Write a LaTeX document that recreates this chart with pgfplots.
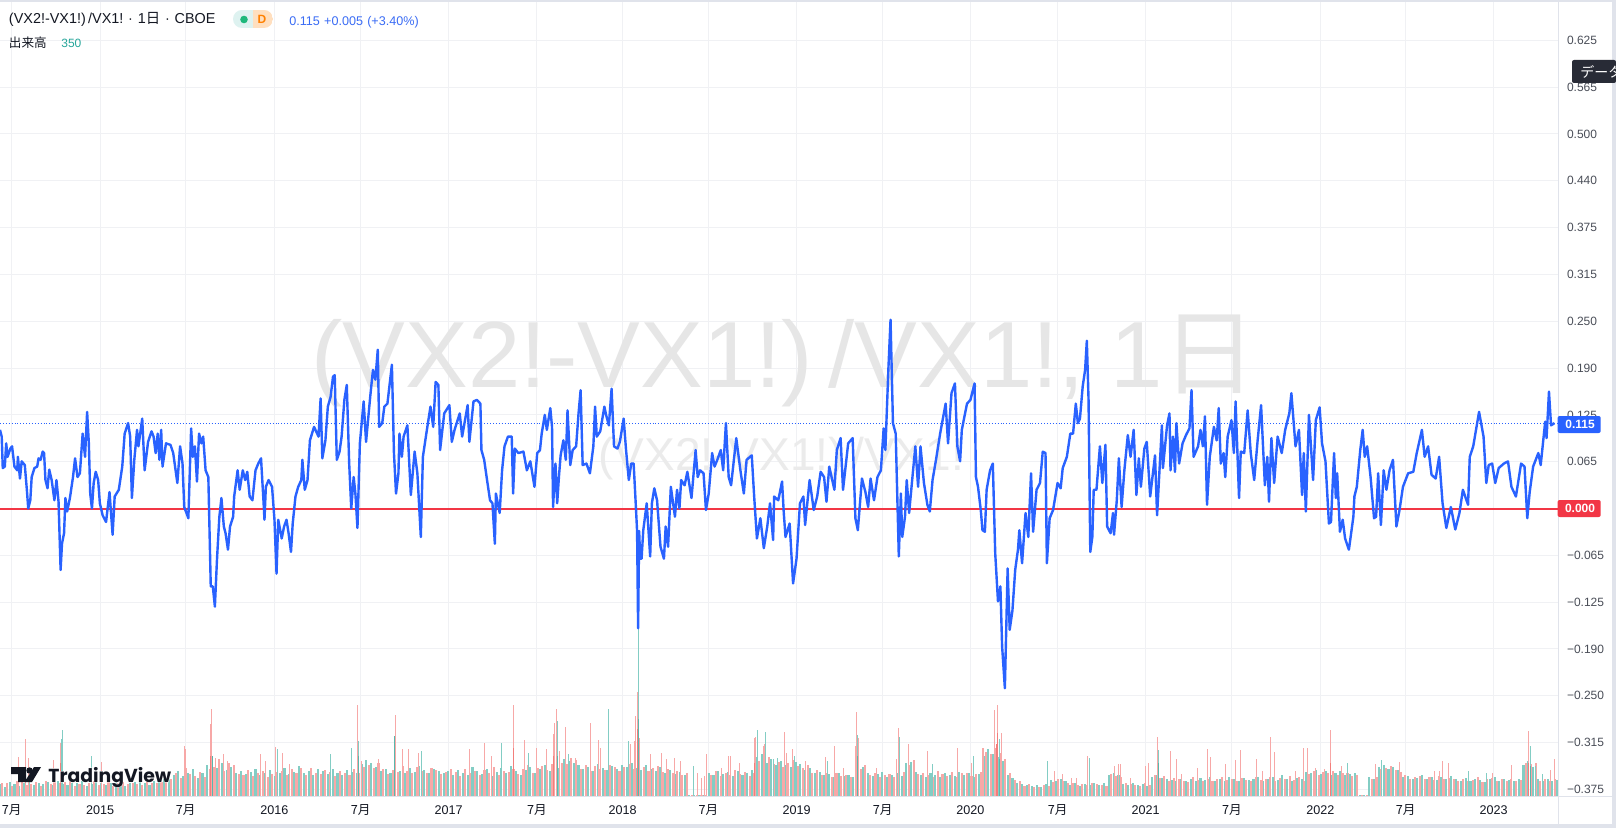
\documentclass[border=0pt]{standalone}
\usepackage{pgfplots}
\usepackage{pgfplotstable}
\usepackage{fontspec}
\pgfplotsset{compat=1.18}
\setmainfont{Liberation Sans}
\newfontfamily\cjk{Noto Sans CJK JP}
\newfontfamily\tvfont{Poppins}[UprightFont=* Bold]
\newfontfamily\tvhalo{Poppins}[UprightFont=* Bold,FakeBold=4]

\definecolor{band}{HTML}{E0E3EB}
\definecolor{gridc}{HTML}{F0F1F4}
\definecolor{wm}{HTML}{E6E6E6}
\definecolor{tick}{HTML}{4A4E58}
\definecolor{ink}{HTML}{131722}
\definecolor{blue}{HTML}{2962FF}
\definecolor{hblue}{HTML}{3A6CF5}
\definecolor{redl}{HTML}{F23645}
\definecolor{vup}{HTML}{83CDC4}
\definecolor{vdn}{HTML}{F7A8A7}
\definecolor{vupd}{HTML}{57B8AD}
\definecolor{vdnd}{HTML}{F37E7B}
\definecolor{volt}{HTML}{26A69A}

% volume: regular bars, green and red side by side
\pgfplotstableread[row sep=\\]{g r\\
35 40\\ 28 38\\ 42 30\\ 36 44\\ 30 48\\ 38 33\\ 45 36\\ 33 41\\ 40 30\\ 36 46\\ 42 35\\ 34 50\\ 46 38\\ 36 42\\ 32 60\\ 40 30\\ 38 36\\ 44 34\\
30 40\\ 36 45\\ 42 32\\ 38 36\\ 34 44\\ 40 30\\ 44 38\\ 36 42\\ 30 35\\ 38 40\\ 42 36\\ 46 34\\ 38 44\\ 34 40\\ 44 38\\ 48 42\\ 52 46\\ 58 50\\
62 70\\ 75 55\\ 60 85\\ 70 65\\ 82 60\\ 55 72\\ 68 58\\ 92 80\\ 105 88\\ 85 112\\ 98 75\\ 78 100\\ 88 92\\ 70 66\\ 76 62\\ 66 78\\ 72 60\\ 80 70\\ 62 74\\ 68 58\\ 78 66\\ 60 72\\
70 76\\ 84 64\\ 66 80\\ 72 68\\ 90 85\\ 68 62\\ 76 84\\ 62 70\\ 82 66\\ 74 78\\ 66 72\\ 80 60\\ 70 76\\ 64 68\\ 78 62\\ 72 80\\ 68 70\\
96 88\\ 108 92\\ 100 85\\ 88 98\\ 74 80\\ 82 66\\ 70 78\\ 86 72\\ 76 90\\ 68 74\\ 84 68\\ 72 88\\ 90 76\\ 78 70\\ 68 84\\ 82 78\\ 74 66\\ 70 72\\ 76 80\\
64 72\\ 78 60\\ 70 82\\ 62 68\\ 86 74\\ 74 62\\ 66 78\\ 80 70\\ 60 86\\ 72 64\\ 84 76\\ 68 72\\ 90 80\\ 74 66\\ 64 82\\ 78 92\\ 86 70\\ 70 84\\
82 90\\ 92 78\\ 76 96\\ 100 86\\ 85 100\\ 110 95\\ 105 115\\ 98 108\\ 92 82\\ 80 94\\ 88 76\\ 76 90\\ 96 82\\ 84 78\\ 78 92\\ 90 86\\ 82 74\\ 94 88\\
88 96\\ 100 80\\ 84 92\\ 78 86\\ 92 76\\ 80 84\\ 74 90\\ 86 72\\ 70 80\\ 78 68\\ 66 74\\ 72 62\\ 64 68\\
3 3\\ 3 3\\ 3 3\\ 3 3\\
70 62\\ 62 74\\ 76 60\\ 66 70\\ 72 64\\ 60 78\\ 74 66\\ 64 72\\ 68 60\\ 78 70\\
118 105\\ 125 112\\ 100 118\\ 110 95\\ 92 102\\ 105 88\\
94 100\\ 88 108\\ 102 90\\ 96 84\\ 78 92\\ 84 70\\ 68 78\\ 72 62\\ 62 70\\
66 58\\ 58 68\\ 70 60\\ 60 64\\ 64 56\\ 56 72\\ 90 82\\ 88 94\\ 68 62\\ 60 70\\ 66 58\\ 72 64\\ 58 66\\
62 56\\ 70 64\\ 60 72\\ 98 92\\ 102 108\\ 72 66\\ 64 70\\ 58 62\\ 68 56\\ 62 74\\ 56 66\\ 70 60\\ 64 72\\ 60 58\\ 72 68\\
62 70\\ 70 60\\ 58 66\\ 66 72\\ 120 132\\ 140 125\\ 125 145\\ 118 128\\ 105 110\\
62 70\\ 55 48\\ 40 44\\ 36 30\\ 32 36\\
30 26\\ 34 28\\ 28 32\\ 36 30\\ 48 42\\ 44 50\\ 50 46\\ 46 40\\ 34 38\\ 38 32\\ 30 36\\
36 32\\ 34 38\\ 40 36\\ 32 34\\ 38 30\\ 62 66\\ 68 60\\ 64 58\\ 36 40\\ 32 36\\ 38 34\\ 34 30\\ 36 38\\ 30 34\\
58 64\\ 62 54\\ 54 60\\ 50 46\\ 48 54\\ 44 50\\ 52 46\\ 46 42\\
50 56\\ 44 48\\ 54 46\\ 48 52\\ 56 44\\ 46 50\\ 52 58\\ 44 48\\ 58 52\\ 50 46\\ 46 54\\ 54 48\\ 48 44\\ 52 56\\
56 48\\ 46 52\\ 50 58\\ 58 46\\ 48 54\\ 62 50\\ 52 60\\ 46 48\\ 54 56\\ 50 44\\
72 66\\ 68 76\\ 78 62\\ 66 72\\ 74 68\\ 62 76\\ 70 64\\ 76 70\\ 64 68\\
66 60\\ 70 64\\ 3 3\\ 3 3\\
56 50\\ 52 58\\ 88 80\\ 92 84\\ 82 90\\ 86 78\\ 78 72\\ 56 62\\ 60 52\\ 50 56\\ 54 60\\ 62 50\\ 52 56\\ 58 48\\ 48 60\\ 56 52\\ 50 54\\ 60 50\\
50 46\\ 46 52\\ 54 44\\ 44 48\\ 52 56\\ 48 42\\ 42 50\\ 50 54\\ 56 46\\ 46 50\\ 52 44\\ 48 52\\ 44 46\\ 50 48\\ 92 98\\ 105 96\\ 88 100\\ 50 44\\ 46 52\\ 52 46\\ 44 50\\ 48 12\\ 8 10\\
}\voltbl

\begin{document}
\begin{tikzpicture}
\path[use as bounding box,fill=white] (0,0) rectangle (808pt,-414pt);

% price scale: grid and tick labels
\begin{axis}[
  at={(0pt,-398pt)},anchor=south west,
  scale only axis,width=779.3pt,height=397pt,
  xmin=0,xmax=4526,ymin=-0.3838,ymax=0.6762,
  axis line style={draw=none},
  major tick length=0pt,
  ytick pos=right,
  xtick pos=bottom,
  grid=major,
  grid style={gridc,line width=0.5pt},
  xtick={34,291,539,797,1047,1303,1559,1808,2057,2313,2563,2818,3071,3327,3577,3834,4082,4337},
  xticklabels={{\cjk 7月},2015,{\cjk 7月},2016,{\cjk 7月},2017,{\cjk 7月},2018,{\cjk 7月},2019,{\cjk 7月},2020,{\cjk 7月},2021,{\cjk 7月},2022,{\cjk 7月},2023},
  xticklabel style={font=\fontsize{6.3}{7}\selectfont,text=ink,inner sep=0pt,anchor=base,yshift=-9pt},
  ytick={-0.375,-0.3125,-0.25,-0.1875,-0.125,-0.0625,0,0.0625,0.125,0.1875,0.25,0.3125,0.375,0.4375,0.5,0.5625,0.625},
  yticklabels={−0.375,−0.315,−0.250,−0.190,−0.125,−0.065,0.000,0.065,0.125,0.190,0.250,0.315,0.375,0.440,0.500,0.565,0.625},
  yticklabel style={font=\fontsize{6}{7}\selectfont,text=tick,inner sep=0pt,anchor=west,xshift=4pt},
]
\end{axis}

% watermark
\begin{scope}[x=0.5pt,y=-0.5pt]
\node[anchor=base west,inner sep=0pt,text=wm,font=\fontsize{47}{50}\selectfont] at (311,387) {(VX2!-VX1!)\,/VX1!, 1{\cjk 日}};
\node[anchor=base west,inner sep=0pt,text=wm!80,font=\fontsize{23}{25}\selectfont] at (598,470) {(VX2!-VX1!)\,/VX1!};
\end{scope}

% volume
\begin{axis}[
  at={(0pt,-398pt)},anchor=south west,
  scale only axis,width=779.3pt,height=397pt,
  xmin=0,xmax=4526,ymin=0,ymax=2382,
  hide axis,
]
\addplot[ycomb,mark=none,draw=vdn,line width=1.05pt] table[x expr=\coordindex*14+7,y=r] {\voltbl};
\addplot[ycomb,mark=none,draw=vup,line width=1.05pt] table[x expr=\coordindex*14,y=g] {\voltbl};
% tall red bars
\addplot[ycomb,mark=none,draw=vdn,line width=0.5pt] coordinates {
(55,117)(75,170)(82,115)(155,108)(175,160)(295,103)(535,150)(540,140)(612,215)(614,260)(625,115)(648,125)(660,105)(755,125)(770,105)(800,148)(820,130)(840,95)
(1038,273)(1050,105)(1100,110)(1148,243)(1170,140)(1187,140)(1215,130)(1362,140)(1408,160)(1427,120)(1490,273)(1522,168)(1558,145)
(1588,140)(1606,185)(1610,220)(1616,260)(1626,135)(1641,207)(1670,115)(1714,220)(1738,168)(1744,145)(1768,160)(1830,155)(1843,165)(1846,240)(1851,312)(1858,175)(1888,125)
(1920,128)(1936,110)(1960,115)(1976,105)(2026,70)(2036,55)(2045,60)(2051,125)(2095,85)(2115,120)(2120,120)(2148,100)(2190,175)(2194,178)(2216,150)(2220,155)
(2278,192)(2283,130)(2300,140)(2338,105)(2396,118)(2423,150)(2448,85)(2483,150)(2486,252)(2493,175)(2546,85)(2603,110)(2608,205)(2638,155)(2693,135)(2780,145)(2820,100)
(2852,145)(2857,145)(2888,258)(2896,272)(2908,190)(2920,110)(3061,75)(3085,65)(3111,55)(3126,55)
(3158,120)(3236,90)(3249,95)(3254,95)(3283,55)(3326,90)(3334,100)(3362,177)(3400,135)(3416,110)(3431,65)(3478,85)(3506,140)(3514,118)(3560,95)(3588,108)(3601,138)(3649,110)(3666,75)
(3689,177)(3702,132)(3761,75)(3786,143)(3798,145)(3821,85)(3846,80)(3865,198)(3896,90)(3994,95)(4063,102)(4166,75)(4179,75)(4188,105)(4206,100)(4333,70)(4389,92)(4439,195)(4503,78)(4513,110)
};
% tall green bars
\addplot[ycomb,mark=none,draw=vup,line width=0.5pt] coordinates {
(178,170)(181,197)(265,120)(805,140)(960,125)(1020,145)(1042,165)(1225,135)(1455,160)(1535,130)
(1620,225)(1650,125)(1766,260)(1824,165)(1853,504)(2015,90)(2199,197)(2223,192)(2246,110)(2258,115)(2308,120)(2403,105)(2490,182)(2613,178)(2708,95)(2826,120)(2901,170)(3043,105)
(3163,115)(3365,138)(3914,100)(4012,108)(4263,75)(4318,70)(4443,150)(4458,90)(4478,65)
};
% darker where red and green bars overlap
\addplot[ycomb,mark=none,draw=vdnd,line width=0.5pt] coordinates {
(176,100)(612,120)(1490,145)(1606,120)(1851,200)(1854,100)(2190,100)(2894,155)(2896,190)(3865,100)(4439,100)
};
\addplot[ycomb,mark=none,draw=vupd,line width=0.5pt] coordinates {
(618,120)(1042,120)(1145,180)(1620,120)(1853,230)(2490,120)(2901,110)(3365,100)(4443,90)
};
\end{axis}

% price line
\begin{axis}[
  at={(0pt,-398pt)},anchor=south west,
  scale only axis,width=779.3pt,height=397pt,
  xmin=0,xmax=4526,ymin=-0.3838,ymax=0.6762,
  hide axis,
]
\addplot[redl,line width=1pt] coordinates {(0,0)(4526,0)};
\addplot[blue,densely dotted,line width=0.45pt] coordinates {(0,0.1135)(4526,0.1135)};
\addplot[blue,line width=1.2pt,line join=round] coordinates {
(0,.105)(5,.096)(8,.054)(14,.056)(18,.087)(22,.069)(30,.080)(35,.083)(42,.056)(50,.051)(52,.069)(58,.040)(63,.063)(72,.058)(78,.025)(82,.000)(88,.011)(92,.042)(100,.054)(108,.056)
(112,.067)(118,.065)(124,.076)(128,.074)(132,.038)(138,.027)(143,.052)(150,.038)(158,.011)(164,.038)(170,.009)(176,-.082)(180,-.047)(186,-.033)(190,.014)(195,-.004)(203,.014)(212,.042)
(218,.067)(225,.042)(232,.047)(240,.100)(247,.069)(253,.129)(258,.087)(262,.020)(267,.000)(272,.034)(278,.049)(285,.038)(290,.007)(298,-.009)(308,-.018)(318,.022)(327,-.035)(333,.016)
(345,.025)(355,.056)(362,.100)(372,.114)(378,.096)(383,.014)(390,.065)(398,.105)(402,.083)(413,.120)(420,.051)(430,.089)(440,.103)(446,.096)(452,.074)(458,.100)(463,.065)(468,.105)
(472,.056)(482,.087)(495,.085)(503,.074)(515,.034)(523,.083)(530,.060)(535,.002)(547,-.013)(555,.107)(560,.069)(566,.083)(572,.036)(578,.100)(585,.087)(590,.096)(597,.051)(605,.042)
(612,-.104)(618,-.104)(624,-.131)(630,-.069)(637,-.011)(643,.014)(650,-.024)(655,-.033)(662,-.055)(668,-.024)(677,-.011)(680,.016)(690,.051)(696,.025)(705,.051)(712,.038)(718,.049)
(725,.016)(733,.011)(742,.051)(750,.060)(758,.067)(765,.011)(768,-.015)(772,.029)(780,.038)(790,.029)(797,-.015)(803,-.087)(808,-.015)(818,-.040)(825,-.024)(832,-.015)(838,-.033)
(845,-.058)(850,-.020)(858,.016)(866,.029)(875,.038)(878,.065)(885,.025)(893,.038)(900,.091)(912,.109)(925,.096)(931,.147)(936,.067)(945,.091)(952,.136)(960,.149)(967,.176)(972,.178)
(978,.065)(986,.076)(992,.096)(1000,.145)(1007,.165)(1014,.060)(1020,.000)(1027,.042)(1032,.020)(1038,-.026)(1045,.087)(1056,.143)(1063,.089)(1075,.149)(1083,.185)(1090,.172)(1097,.212)
(1101,.109)(1110,.114)(1116,.136)(1125,.140)(1138,.192)(1144,.074)(1150,.020)(1157,.047)(1160,.100)(1167,.069)(1172,.096)(1183,.111)(1193,.018)(1204,.076)(1212,.047)(1222,-.038)(1228,.069)
(1238,.100)(1250,.136)(1258,.109)(1265,.169)(1273,.165)(1278,.078)(1290,.127)(1305,.138)(1312,.089)(1320,.105)(1335,.127)(1342,.096)(1358,.138)(1363,.089)(1375,.143)(1385,.145)(1395,.140)
(1398,.078)(1406,.065)(1415,.036)(1423,.011)(1430,.007)(1437,-.047)(1440,.020)(1451,-.006)(1458,.051)(1465,.083)(1475,.096)(1486,.096)(1490,.020)(1495,.080)(1505,.074)(1520,.076)(1530,.051)
(1540,.063)(1552,.029)(1560,.074)
(1568,.078)(1573,.100)(1582,.125)(1588,.105)(1598,.134)(1603,.109)(1606,.002)(1613,.060)(1618,.007)(1623,.042)(1628,.071)(1636,.091)(1643,.065)(1648,.131)(1656,.058)(1663,.078)(1673,.083)
(1680,.127)(1686,.158)(1692,.058)(1703,.060)(1713,.047)(1723,.083)(1728,.136)(1733,.096)(1743,.103)(1755,.136)(1760,.125)(1768,.111)(1776,.160)(1783,.083)(1793,.080)(1800,.089)(1811,.120)
(1818,.078)(1826,.038)(1833,.060)(1840,.060)(1846,.007)(1850,-.030)(1853,-.160)(1856,-.030)(1859,-.067)(1863,-.067)(1868,-.029)(1878,.007)(1888,-.064)(1893,.007)(1900,.027)(1908,.011)(1918,-.051)(1928,-.067)
(1933,-.024)(1940,-.051)(1948,.029)(1960,-.011)(1966,.025)(1973,.000)(1978,.038)(1988,.031)(1996,.049)(2008,.014)(2020,.078)(2026,.042)(2033,.051)(2043,.047)(2050,-.002)(2058,.020)(2068,.074)
(2075,.056)(2083,.065)(2093,.078)(2100,.051)(2108,.114)(2116,.042)(2123,.031)(2138,.094)(2150,.051)(2160,.020)(2168,.065)(2183,.071)(2190,.016)(2198,-.040)(2208,-.013)(2218,-.053)(2228,-.024)
(2236,.007)(2245,-.042)(2248,.016)(2260,.011)(2271,.036)(2276,-.006)(2281,-.038)(2293,-.020)(2303,-.100)(2313,-.067)(2323,.007)(2333,.016)(2338,-.022)(2351,.038)(2363,-.002)(2373,.016)(2383,.049)
(2393,.042)(2400,.009)(2408,.056)(2423,.025)(2430,.078)(2441,.094)(2448,.025)(2463,.087)(2476,.094)(2484,-.013)(2491,-.029)(2503,.040)(2513,.022)(2521,.002)(2528,.040)(2538,.011)(2548,.042)
(2558,.051)(2566,.107)(2571,.078)(2580,.189)(2586,.252)(2593,.114)(2601,.100)(2610,-.064)(2616,.020)(2620,-.038)(2628,-.011)(2633,.038)(2640,-.006)(2648,.034)(2658,.083)(2666,.029)(2673,.083)
(2683,.034)(2693,.005)(2700,-.004)(2708,.038)(2718,.065)(2730,.100)(2746,.140)(2753,.087)(2763,.154)(2773,.167)(2780,.083)(2788,.063)(2793,.105)(2808,.140)(2818,.145)(2830,.167)(2834,.042)
(2840,.029)(2848,-.002)(2853,-.029)(2860,-.031)(2865,.025)(2875,.051)(2883,.060)(2890,-.060)(2898,-.124)(2905,-.104)(2910,-.184)(2918,-.240)(2926,-.080)(2932,-.162)(2940,-.136)(2948,-.082)
(2956,-.055)(2960,-.029)(2968,-.073)(2978,-.006)(2986,-.038)(2994,.047)(3000,-.031)(3010,.025)(3020,.034)(3028,.076)(3036,.074)(3040,-.073)(3048,-.013)(3058,-.002)(3071,.034)(3080,.027)
(3086,.054)(3098,.069)(3108,.100)(3116,.100)(3124,.140)(3130,.114)
(3136,.120)(3144,.163)(3151,.185)(3156,.224)(3161,.145)(3166,-.058)(3172,-.038)(3176,.025)(3184,.025)(3194,.083)(3201,.034)(3210,.085)(3215,-.024)(3225,-.033)(3232,-.006)(3235,-.035)(3243,.011)
(3249,.067)(3257,.002)(3265,.051)(3275,.098)(3283,.069)(3292,.105)(3300,.018)(3307,.067)(3313,.029)(3323,.080)(3330,.089)(3340,.016)(3354,.071)(3360,-.009)(3374,.111)(3377,.054)(3389,.111)
(3396,.127)(3399,.051)(3406,.096)(3412,.049)(3416,.114)(3424,.060)(3434,.087)(3444,.098)(3454,.107)(3460,.158)(3466,.069)(3479,.083)(3486,.105)(3493,.083)(3499,.123)(3505,.005)(3513,.069)
(3525,.109)(3533,.091)(3539,.134)(3545,.060)(3553,.074)(3558,.042)(3565,.096)(3576,.118)(3583,.074)(3588,.143)(3598,.014)(3603,.076)(3613,.074)(3623,.131)(3632,.074)(3642,.038)(3652,.091)
(3662,.138)(3673,.031)(3680,.069)(3685,.009)(3692,.094)(3700,.034)(3710,.096)(3722,.074)(3732,.105)(3744,.127)(3750,.154)(3762,.083)(3772,.105)(3781,.018)(3786,.074)(3792,-.004)(3801,.125)
(3813,.038)(3821,.118)(3832,.135)(3839,.087)(3849,.063)(3859,-.020)(3865,-.018)(3874,.074)(3879,.014)(3883,.047)(3891,-.031)(3899,-.015)(3906,-.040)(3917,-.055)(3930,-.011)(3933,.016)(3940,.029)
(3950,.078)(3957,.105)(3963,.069)(3970,.083)(3980,.042)(3990,-.013)(3996,-.011)(4002,.047)(4010,-.022)(4018,.051)(4026,.025)(4035,.051)(4045,.065)(4055,-.024)(4064,-.002)(4074,.029)(4089,.047)
(4104,.049)(4114,.074)(4129,.105)(4137,.069)(4147,.083)(4157,.045)(4169,.040)(4179,.069)(4189,.007)(4200,-.026)(4213,.002)(4226,-.028)(4238,-.006)(4248,.025)(4263,.005)(4268,.069)(4278,.083)
(4295,.129)(4308,.096)(4316,.034)(4323,.058)(4333,.060)(4342,.034)(4352,.054)(4367,.060)(4379,.063)(4389,.029)(4402,.016)(4417,.060)(4427,.056)(4435,-.013)(4442,.022)(4452,.056)(4467,.074)
(4474,.058)(4487,.116)(4491,.094)(4498,.156)(4504,.111)(4514,.114)
};
\end{axis}

% frame, price labels, legend and logo, in pixels of the reference
\begin{scope}[x=0.5pt,y=-0.5pt]
\fill[band] (0,0) rectangle (1616,2);
\fill[band] (1612,0) rectangle (1616,828);
\fill[band] (0,824) rectangle (1616,828);
\draw[band,line width=0.5pt] (0,796) -- (1612,796);
\draw[band,line width=0.5pt] (1558.6,2) -- (1558.6,824);

\fill[blue,rounded corners=1pt] (1557.6,416) rectangle (1600.7,433);
\node[text=white,font=\fontsize{6}{7}\selectfont\bfseries,inner sep=0pt] at (1580,424.5) {0.115};
\fill[redl,rounded corners=1pt] (1557.6,500) rectangle (1600.7,517);
\node[text=white,font=\fontsize{6}{7}\selectfont\bfseries,inner sep=0pt] at (1580,508.5) {0.000};

\fill[ink!90!band,rounded corners=1pt] (1572,60) rectangle (1616,83);
\node[anchor=west,text=white,font=\cjk\fontsize{7}{8}\selectfont,inner sep=0pt] at (1580,71.5) {データ};

\node[anchor=base west,text=ink,font=\fontsize{7.2}{8}\selectfont,inner sep=0pt] at (8.6,23.5) {(VX2!-VX1!)\,/VX1!\,\,\textperiodcentered\,\,1{\cjk 日}\,\,\textperiodcentered\,\,CBOE};
\begin{scope}
\clip[rounded corners=4.5pt] (233,10) rectangle (273,28);
\fill[volt!15] (233,10) rectangle (253,28);
\fill[orange!25] (253,10) rectangle (273,28);
\end{scope}
\fill[volt!80!green] (244,19.5) circle (3.8);
\node[text=orange,font=\fontsize{6}{7}\selectfont\bfseries,inner sep=0pt] at (262,19.5) {D};
\node[anchor=base west,text=hblue,font=\fontsize{6.3}{7}\selectfont,inner sep=0pt] at (289,26) {0.115\,\,+0.005\,\,(+3.40\%)};
\node[anchor=base west,text=ink,font=\cjk\fontsize{6.3}{7}\selectfont,inner sep=0pt] at (8.6,48) {出来高};
\node[anchor=base west,text=volt,font=\fontsize{6}{7}\selectfont,inner sep=0pt] at (61,48) {350};

\node[anchor=base west,text=white,font=\tvhalo\fontsize{9.4}{11}\selectfont,inner sep=0pt] at (48,782) {TradingView};
\node[anchor=base west,text=ink,font=\tvfont\fontsize{9.4}{11}\selectfont,inner sep=0pt] at (48,782) {TradingView};
\fill[ink] (11,767) -- (26,767) -- (26,782) -- (18,782) -- (18,774) -- (11,774) -- cycle;
\fill[ink] (29.5,770.5) circle (3.2);
\fill[ink] (34,767) -- (41,767) -- (32,782) -- (24.5,782) -- cycle;
\end{scope}
\end{tikzpicture}
\end{document}
